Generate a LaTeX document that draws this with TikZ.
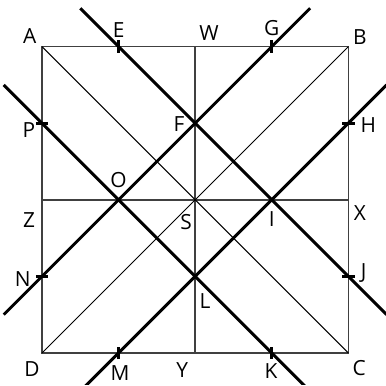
\documentclass[tikz,border=0pt]{standalone}
\usepackage{fontspec}
\setmainfont{Open Sans}
\begin{document}
\begin{tikzpicture}[x=2cm, y=2cm, font=\fontsize{15.5}{18}\selectfont,
	frame/.style={line width=1.1pt, black!75},
	diag/.style={line width=0.7pt},
	cut/.style={line width=2.2pt, shorten <=-1.414cm, shorten >=-1.414cm},
	tick/.style={line width=2pt},
	lbl/.style={inner sep=0pt}]
		\clip (-0.548,-0.418) rectangle (4.491,4.608);
		
		% 点
		\coordinate (A) at (0,4); \coordinate (B) at (4,4);
		\coordinate (C) at (4,0); \coordinate (D) at (0,0);
		\coordinate (W) at (2,4); \coordinate (Y) at (2,0);
		\coordinate (Z) at (0,2); \coordinate (X) at (4,2);
		\coordinate (S) at (2,2);
		\coordinate (E) at (1,4); \coordinate (G) at (3,4);
		\coordinate (H) at (4,3); \coordinate (J) at (4,1);
		\coordinate (K) at (3,0); \coordinate (M) at (1,0);
		\coordinate (N) at (0,1); \coordinate (P) at (0,3);
		\coordinate (F) at (2,3); \coordinate (O) at (1,2);
		\coordinate (I) at (3,2); \coordinate (L) at (2,1);
		
		% 正方形、中线与对角线
		\draw[frame] (A) -- (B) -- (C) -- (D) -- cycle;
		\draw[frame] (W) -- (Y);
		\draw[frame] (Z) -- (X);
		\draw[diag] (A) -- (C);
		\draw[diag] (B) -- (D);
		
		% 粗线
		\draw[cut] (E) -- (J);
		\draw[cut] (G) -- (N);
		\draw[cut] (P) -- (K);
		\draw[cut] (H) -- (M);
		
		% 刻度
		\foreach \p in {E,G,K,M}
			\draw[tick] ([yshift=-1.6mm]\p) -- ([yshift=1.6mm]\p);
		\foreach \p in {P,N,H,J}
			\draw[tick] ([xshift=-1.6mm]\p) -- ([xshift=1.6mm]\p);
		
		% 标签
		\foreach \p/\dx/\dy in {A/-0.16/0.14, E/0/0.22, W/0.18/0.17, G/0/0.24,
			B/0.15/0.13, P/-0.17/-0.09, F/-0.21/-0.01, H/0.26/-0.02,
			O/0/0.26, Z/-0.17/-0.26, S/-0.12/-0.29, I/0/-0.25, X/0.15/-0.17,
			N/-0.25/-0.03, J/0.2/0.04, L/0.13/-0.32, D/-0.13/-0.21,
			M/0.02/-0.26, Y/-0.17/-0.22, K/-0.01/-0.23, C/0.14/-0.2}
			\node[lbl] (l\p) at ([shift={(\dx,\dy)}]\p) {\p};
		\end{tikzpicture}
\end{document}
